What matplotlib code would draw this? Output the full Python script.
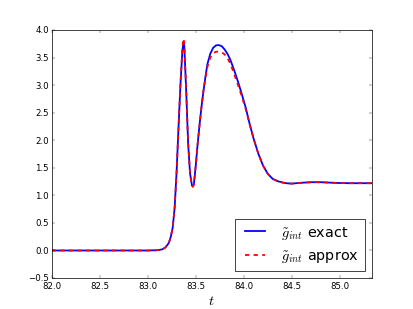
import matplotlib
matplotlib.use("Agg")
import matplotlib.pyplot as plt

# valeurs (t, g_int exact / approx)
t = [82.0, 82.5, 83.0, 83.1, 83.15, 83.18, 83.2, 83.22, 83.24, 83.26, 83.28,
     83.30, 83.32, 83.34, 83.36, 83.37, 83.38, 83.40, 83.42, 83.44, 83.46,
     83.47, 83.48, 83.50, 83.52, 83.54, 83.56, 83.58, 83.60, 83.62, 83.65,
     83.68, 83.71, 83.74, 83.77, 83.80, 83.83, 83.86, 83.90, 83.94, 83.98,
     84.02, 84.06, 84.10, 84.15, 84.20, 84.25, 84.30, 84.35, 84.40, 84.45,
     84.50, 84.60, 84.70, 84.80, 84.90, 85.0, 85.1, 85.2, 85.33]
g_exact = [0.0, 0.0, 0.0, 0.005, 0.02, 0.05, 0.09, 0.14, 0.25, 0.42, 0.78,
           1.42, 2.23, 3.00, 3.62, 3.77, 3.72, 2.90, 1.95, 1.40, 1.18,
           1.16, 1.20, 1.55, 1.95, 2.30, 2.62, 2.90, 3.15, 3.38, 3.57,
           3.68, 3.725, 3.73, 3.71, 3.65, 3.57, 3.46, 3.27, 3.06, 2.83,
           2.59, 2.30, 2.04, 1.76, 1.54, 1.39, 1.30, 1.26, 1.235, 1.22,
           1.215, 1.23, 1.24, 1.24, 1.232, 1.225, 1.222, 1.222, 1.222]
g_approx = [0.0, 0.0, 0.0, 0.005, 0.02, 0.05, 0.09, 0.14, 0.25, 0.42, 0.78,
            1.42, 2.23, 3.02, 3.66, 3.85, 3.78, 2.92, 1.95, 1.40, 1.18,
            1.16, 1.20, 1.55, 1.95, 2.30, 2.62, 2.90, 3.13, 3.33, 3.50,
            3.58, 3.61, 3.61, 3.60, 3.56, 3.49, 3.39, 3.20, 3.00, 2.79,
            2.56, 2.29, 2.04, 1.76, 1.54, 1.39, 1.30, 1.26, 1.235, 1.22,
            1.215, 1.23, 1.24, 1.24, 1.232, 1.225, 1.222, 1.222, 1.222]

plt.style.use("classic")

fig, ax = plt.subplots(figsize=(8, 6))
ax.plot(t, g_exact, "b-", lw=2.5, label=r"$\tilde{g}_{int}$ exact")
ax.plot(t, g_approx, "r--", lw=2.5, label=r"$\tilde{g}_{int}$ approx")
ax.set_xlim(82.0, 85.33)
ax.set_ylim(-0.5, 4.0)
ax.set_xlabel(r"$t$", fontsize=20)
ax.legend(loc="lower right", fontsize=20)
fig.savefig("out.png", dpi=413 / 8)
